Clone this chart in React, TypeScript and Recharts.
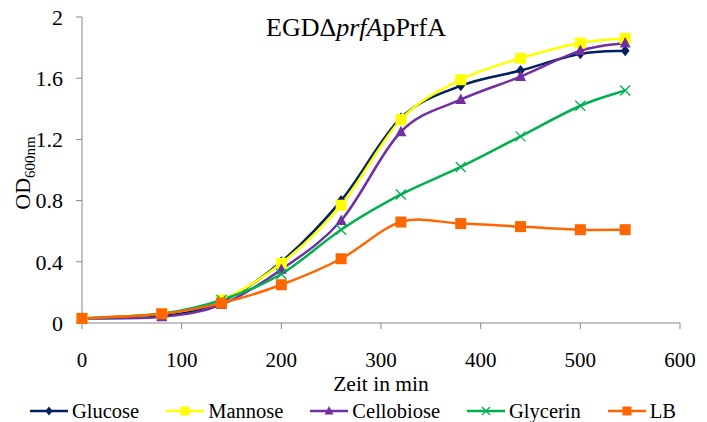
import { Legend, Line, LineChart, XAxis, YAxis } from "recharts";

const times = [0, 80, 140, 200, 260, 320, 380, 440, 500, 545];
const glucose = [0.03, 0.05, 0.14, 0.4, 0.8, 1.34, 1.55, 1.65, 1.76, 1.78];
const mannose = [0.03, 0.06, 0.15, 0.39, 0.77, 1.33, 1.59, 1.73, 1.83, 1.86];
const cellobiose = [0.03, 0.04, 0.12, 0.35, 0.67, 1.25, 1.46, 1.61, 1.78, 1.83];
const glycerin = [0.03, 0.06, 0.15, 0.32, 0.61, 0.84, 1.02, 1.22, 1.42, 1.52];
const lb = [0.03, 0.06, 0.13, 0.25, 0.42, 0.66, 0.65, 0.63, 0.61, 0.61];

const xTicks = [0, 100, 200, 300, 400, 500, 600];
const yTicks = [0, 0.4, 0.8, 1.2, 1.6, 2];

const data = times.map((t, i) => ({
  t,
  glucose: glucose[i],
  mannose: mannose[i],
  cellobiose: cellobiose[i],
  glycerin: glycerin[i],
  lb: lb[i],
}));

type Marker = "diamond" | "square" | "triangle" | "cross";

const series: { key: string; name: string; color: string; marker: Marker }[] = [
  { key: "glucose", name: "Glucose", color: "#002060", marker: "diamond" },
  { key: "mannose", name: "Mannose", color: "#FFFF00", marker: "square" },
  { key: "cellobiose", name: "Cellobiose", color: "#7030A0", marker: "triangle" },
  { key: "glycerin", name: "Glycerin", color: "#00B050", marker: "cross" },
  { key: "lb", name: "LB", color: "#FF6600", marker: "square" },
];

const FONT = '"Liberation Serif", "Times New Roman", serif';
const AXIS = "#868686";

// Excel-style smoothed line (Catmull-Rom as cubic beziers)
function excelCurve(context: any) {
  let pts: [number, number][] = [];
  return {
    areaStart() {},
    areaEnd() {},
    lineStart() {
      pts = [];
    },
    point(x: number, y: number) {
      pts.push([x, y]);
    },
    lineEnd() {
      if (!pts.length) return;
      context.moveTo(pts[0][0], pts[0][1]);
      for (let i = 0; i < pts.length - 1; i++) {
        const p0 = pts[i - 1] ?? pts[i];
        const p1 = pts[i];
        const p2 = pts[i + 1];
        const p3 = pts[i + 2] ?? p2;
        context.bezierCurveTo(
          p1[0] + (p2[0] - p0[0]) / 6,
          p1[1] + (p2[1] - p0[1]) / 6,
          p2[0] - (p3[0] - p1[0]) / 6,
          p2[1] - (p3[1] - p1[1]) / 6,
          p2[0],
          p2[1]
        );
      }
    },
  };
}

function MarkerShape({ cx, cy, marker, color, s }: { cx: number; cy: number; marker: Marker; color: string; s: number }) {
  if (marker === "diamond") {
    return <path d={`M${cx},${cy - s}L${cx + s * 0.8},${cy}L${cx},${cy + s}L${cx - s * 0.8},${cy}Z`} fill={color} />;
  }
  if (marker === "square") {
    return <rect x={cx - s} y={cy - s} width={s * 2} height={s * 2} fill={color} />;
  }
  if (marker === "triangle") {
    return <path d={`M${cx},${cy - s * 1.1}L${cx + s},${cy + s * 0.8}L${cx - s},${cy + s * 0.8}Z`} fill={color} />;
  }
  return (
    <path
      d={`M${cx - s},${cy - s}L${cx + s},${cy + s}M${cx - s},${cy + s}L${cx + s},${cy - s}`}
      stroke={color}
      strokeWidth={1.3}
      fill="none"
    />
  );
}

function renderDot(marker: Marker, color: string, size: number) {
  return (props: any) => {
    const { cx, cy, index } = props;
    if (cx == null || cy == null) return <g key={index} />;
    return <MarkerShape key={index} cx={cx} cy={cy} marker={marker} color={color} s={size} />;
  };
}

function LegendContent() {
  return (
    <div
      style={{
        display: "flex",
        justifyContent: "center",
        alignItems: "center",
        gap: 27,
        height: 22,
        fontFamily: FONT,
        fontSize: 20.5,
        color: "#000",
        paddingLeft: 4,
      }}
    >
      {series.map((s) => (
        <div key={s.key} style={{ display: "flex", alignItems: "center", gap: 4 }}>
          <svg width={38} height={14}>
            <line x1={0} x2={38} y1={7} y2={7} stroke={s.color} strokeWidth={2.5} />
            <MarkerShape cx={19} cy={7} marker={s.marker} color={s.color} s={s.marker === "cross" ? 4 : 4.5} />
          </svg>
          <span>{s.name}</span>
        </div>
      ))}
    </div>
  );
}

export default function App() {
  return (
    <div style={{ position: "absolute", left: 0, top: 0, background: "#fff", fontFamily: FONT }}>
      <LineChart
        width={707}
        height={422}
        data={data}
        margin={{ top: 17, right: 27, left: 22, bottom: 0 }}
        style={{ fontFamily: FONT }}
      >
        <XAxis
          dataKey="t"
          type="number"
          domain={[0, 600]}
          ticks={xTicks}
          height={77}
          stroke={AXIS}
          tickSize={6}
          tickMargin={23}
          tick={{ fill: "#000", fontSize: 21, fontFamily: FONT }}
          label={({ viewBox }: any) => (
            <text
              x={viewBox.x + viewBox.width / 2}
              y={viewBox.y + 68}
              textAnchor="middle"
              fontSize={21.5}
              fontFamily={FONT}
              fill="#000"
            >
              Zeit in min
            </text>
          )}
        />
        <YAxis
          type="number"
          domain={[0, 2]}
          ticks={yTicks}
          width={60}
          stroke={AXIS}
          tickSize={6}
          tickMargin={13}
          tick={{ fill: "#000", fontSize: 22, fontFamily: FONT }}
          label={({ viewBox }: any) => {
            const cx = viewBox.x + 8;
            const cy = viewBox.y + viewBox.height / 2 + 3;
            return (
              <text
                x={cx}
                y={cy}
                transform={`rotate(-90 ${cx} ${cy})`}
                textAnchor="middle"
                fontSize={22}
                fontFamily={FONT}
                fill="#000"
              >
                <tspan>OD</tspan>
                <tspan fontSize={15} dy={5}>
                  600nm
                </tspan>
              </text>
            );
          }}
        />
        <Legend verticalAlign="bottom" height={22} content={<LegendContent />} />
        {series.map((s) => (
          <Line
            key={s.key}
            dataKey={s.key}
            name={s.name}
            type={excelCurve as any}
            stroke={s.color}
            strokeWidth={2.5}
            dot={renderDot(s.marker, s.color, s.marker === "cross" ? 5 : s.marker === "diamond" ? 5.5 : 5.5)}
            activeDot={false}
            isAnimationActive={false}
          />
        ))}
        <text x={356} y={36} textAnchor="middle" fontSize={26} fontFamily={FONT} fill="#000">
          EGDΔ<tspan fontStyle="italic">prfA</tspan>pPrfA
        </text>
      </LineChart>
    </div>
  );
}
